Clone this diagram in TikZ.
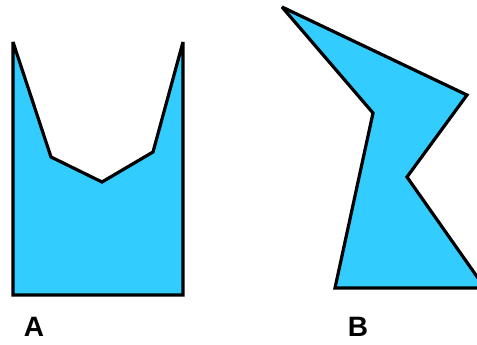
\documentclass[tikz,border=0pt]{standalone}
\usepackage{fontspec}
\setmainfont{Liberation Sans}
\definecolor{shapeblue}{RGB}{51,204,255}

\begin{document}
\begin{tikzpicture}[
  x=1pt,y=-1pt,
  polyshape/.style={draw=black,fill=shapeblue,line width=3.2pt,
                    line join=miter,miter limit=2},
  letter/.style={font=\fontsize{28}{28}\selectfont\bfseries,inner sep=0pt},
]

%% frame: 477 x 345, y grows downwards
\useasboundingbox (0,0) rectangle (477,345);
\clip (0,0) rectangle (477,345);

% --- shape A (notched cup) ---
\draw[polyshape] (13,42) -- (51,157) -- (102,182) -- (153,152) -- (183,42)
             -- (183,295) -- (13,295) -- cycle;
\node[letter] (labA) at (34,327) {A};

% --- shape B (zigzag) ---
\draw[polyshape] (282,7) -- (467,95) -- (407,177) -- (485,288)
             -- (335,288) -- (373,113) -- cycle;
\node[letter] (labB) at (358,327) {B};

\end{tikzpicture}
\end{document}
